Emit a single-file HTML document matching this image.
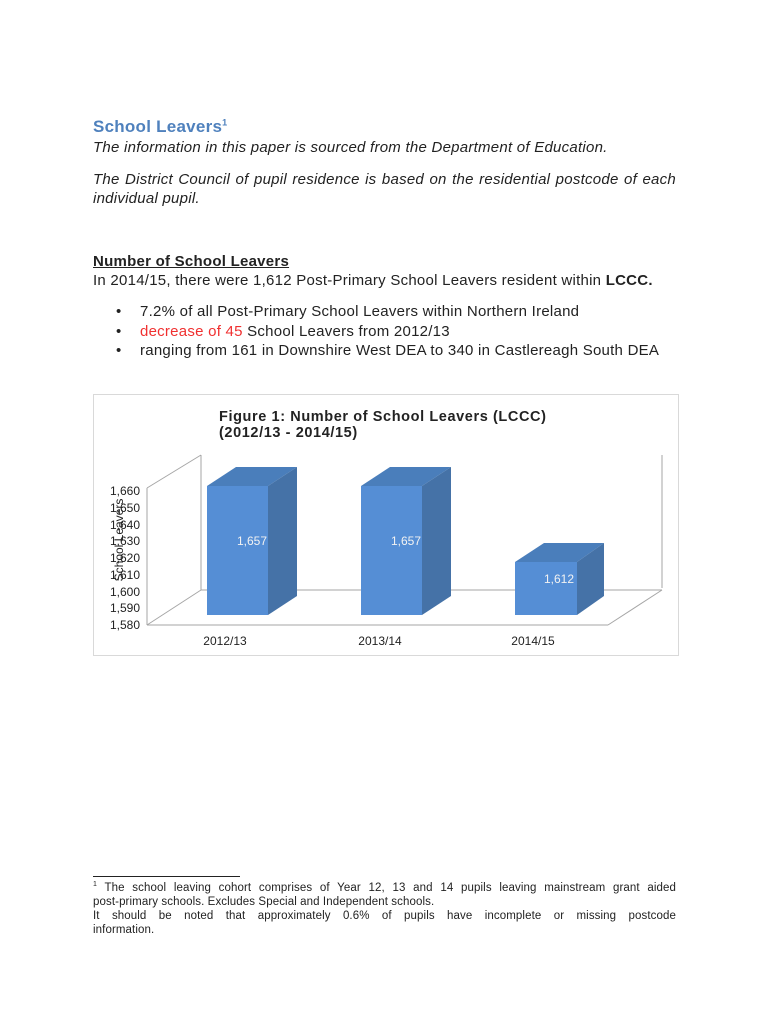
<!DOCTYPE html>
<html><head><meta charset="utf-8"><style>
body{margin:0;background:#fff;}
.p{position:relative;width:770px;height:1024px;font-family:"Liberation Sans",sans-serif;color:#222;}
.t{position:absolute;left:93px;white-space:nowrap;font-size:15px;line-height:18px;letter-spacing:0.25px;}
.j{width:583px;text-align:justify;text-align-last:justify;white-space:normal;}
.i{font-style:italic;}
.f{position:absolute;left:93px;width:583px;font-size:11.5px;line-height:14px;white-space:nowrap;letter-spacing:0.1px;}
sup{line-height:0;}
</style></head><body><div class="p">
<div class="t" style="top:118px;font-size:17px;font-weight:bold;color:#4f81bd;">School Leavers<sup style="font-size:9px">1</sup></div>
<div class="t i" style="top:139px;">The information in this paper is sourced from the Department of Education.</div>
<div class="t i j" style="top:171px;">The District Council of pupil residence is based on the residential postcode of each</div>
<div class="t i" style="top:190px;">individual pupil.</div>
<div class="t" style="top:253px;font-weight:bold;text-decoration:underline;">Number of School Leavers</div>
<div class="t" style="top:272px;">In 2014/15, there were 1,612 Post-Primary School Leavers resident within <b>LCCC.</b></div>
<div class="t" style="top:303px;left:116px;">•</div><div class="t" style="top:303px;left:140px;">7.2% of all Post-Primary School Leavers within Northern Ireland</div>
<div class="t" style="top:323px;left:116px;">•</div><div class="t" style="top:323px;left:140px;"><span style="color:#f03030">decrease of 45</span> School Leavers from 2012/13</div>
<div class="t" style="top:342px;left:116px;">•</div><div class="t" style="top:342px;left:140px;">ranging from 161 in Downshire West DEA to 340 in Castlereagh South DEA</div>

<svg style="position:absolute;left:0;top:0" width="770" height="1024" font-family="Liberation Sans, sans-serif">
<rect x="93.5" y="394.5" width="585" height="261" fill="#fff" stroke="#d9d9d9"/>
<text x="219" y="421" font-size="14.5" font-weight="bold" fill="#222" letter-spacing="0.6">Figure 1:  Number of School Leavers (LCCC)</text>
<text x="219" y="437" font-size="14.5" font-weight="bold" fill="#222" letter-spacing="0.6">(2012/13 - 2014/15)</text>
<g stroke="#a6a6a6" fill="none" stroke-width="1">
<line x1="201" y1="455" x2="201" y2="590"/>
<line x1="662" y1="455" x2="662" y2="588"/>
<line x1="201" y1="590" x2="662" y2="590"/>
<line x1="147" y1="488" x2="201" y2="455"/>
<line x1="147" y1="488" x2="147" y2="625"/>
<line x1="147" y1="625" x2="201" y2="590"/>
<line x1="147" y1="625" x2="608" y2="625"/>
<line x1="608" y1="625" x2="662" y2="590"/>
</g>
<g>
<polygon points="207,486 268,486 297,467 236,467" fill="#4a7ebb"/>
<polygon points="268,486 297,467 297,596 268,615" fill="#4572a7"/>
<rect x="207" y="486" width="61" height="129" fill="#558ed5"/>
<polygon points="361,486 422,486 451,467 390,467" fill="#4a7ebb"/>
<polygon points="422,486 451,467 451,596 422,615" fill="#4572a7"/>
<rect x="361" y="486" width="61" height="129" fill="#558ed5"/>
<polygon points="515,562 577,562 604,543 544,543" fill="#4a7ebb"/>
<polygon points="577,562 604,543 604,596 577,615" fill="#4572a7"/>
<rect x="515" y="562" width="62" height="53" fill="#558ed5"/>
</g>
<g font-size="12" fill="#f2f2f2"><text x="237" y="545">1,657</text><text x="391" y="545">1,657</text><text x="544" y="583">1,612</text></g>
<g font-size="12" fill="#222" text-anchor="end">
<text x="140" y="495">1,660</text><text x="140" y="512">1,650</text><text x="140" y="529">1,640</text><text x="140" y="545">1,630</text><text x="140" y="562">1,620</text><text x="140" y="579">1,610</text><text x="140" y="596">1,600</text><text x="140" y="612">1,590</text><text x="140" y="629">1,580</text>
</g>
<text transform="translate(123,540) rotate(-90)" font-size="12" fill="#222" text-anchor="middle">School Leavers</text>
<g font-size="12" fill="#222" text-anchor="middle"><text x="225" y="645">2012/13</text><text x="380" y="645">2013/14</text><text x="533" y="645">2014/15</text></g>
<line x1="93" y1="876.5" x2="240" y2="876.5" stroke="#222"/>
</svg>
<div class="f j" style="top:881px;"><sup style="font-size:7px">1</sup> The school leaving cohort comprises of Year 12, 13 and 14 pupils leaving mainstream grant aided</div>
<div class="f" style="top:895px;">post-primary schools. Excludes Special and Independent schools.</div>
<div class="f j" style="top:909px;">It should be noted that approximately 0.6% of pupils have incomplete or missing postcode</div>
<div class="f" style="top:923px;">information.</div>
</div></body></html>
